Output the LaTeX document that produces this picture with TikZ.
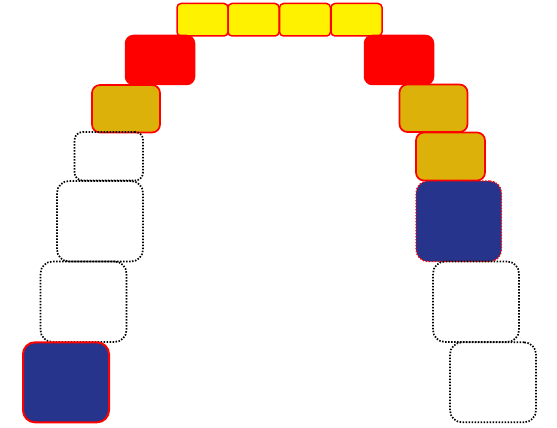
\documentclass[tikz,border=0pt]{standalone}
\begin{document}
\begin{tikzpicture}[x=1pt,y=-1pt,
  every node/.style={inner sep=0pt,outer sep=0pt,anchor=north west},
  ybox/.style={draw=red,line width=1.5pt,fill=yellow,rounded corners=4pt,minimum width=51pt,minimum height=32.5pt},
  rbox/.style={draw=red,line width=1.5pt,fill=red,rounded corners=8pt,minimum width=69pt,minimum height=49pt},
  gbox/.style={draw=red,line width=1.7pt,fill=goldc,rounded corners=8pt,minimum width=68pt,minimum height=47.5pt},
  dotline/.style={line width=1.7pt,dash pattern=on 1.5pt off 1.5pt},
  dsmall/.style={draw=black,dotline,rounded corners=8pt,minimum width=68.5pt,minimum height=48.5pt},
  dbig/.style={draw=black,dotline,rounded corners=12pt,minimum width=86pt,minimum height=80.5pt},
  nbox/.style={fill=navyc,rounded corners=12pt,minimum width=86pt,minimum height=80pt},
]
\definecolor{goldc}{HTML}{DCB20A}
\definecolor{navyc}{HTML}{27348B}
\useasboundingbox (0,0) rectangle (557,428);
% top row
\node[ybox] (y1) at (177,3.5) {};
\node[ybox] (y2) at (228,3.5) {};
\node[ybox] (y3) at (279.5,3.5) {};
\node[ybox] (y4) at (331,3.5) {};
% red
\node[rbox] (rl) at (125.5,35.5) {};
\node[rbox] (rr) at (364.5,35.5) {};
% gold
\node[gbox] (gl) at (92,85) {};
\node[gbox] (gr) at (399.5,84.5) {};
% left column
\node[dsmall] (l1) at (74.5,132) {};
\node[dbig] (l2) at (57,181) {};
\node[dbig] (l3) at (40.5,261.5) {};
\node[nbox,draw=red,line width=2pt] (l4) at (23,342.3) {};
% right column
\node[gbox,minimum width=69pt,minimum height=48pt] (r1) at (416,132.5) {};
\node[nbox,draw=red,dotline,line width=1.3pt,minimum width=85.5pt,minimum height=80.5pt] (r2) at (416,181) {};
\node[dbig] (r3) at (433,261.5) {};
\node[dbig,minimum height=80pt] (r4) at (450,342.3) {};
\end{tikzpicture}
\end{document}
